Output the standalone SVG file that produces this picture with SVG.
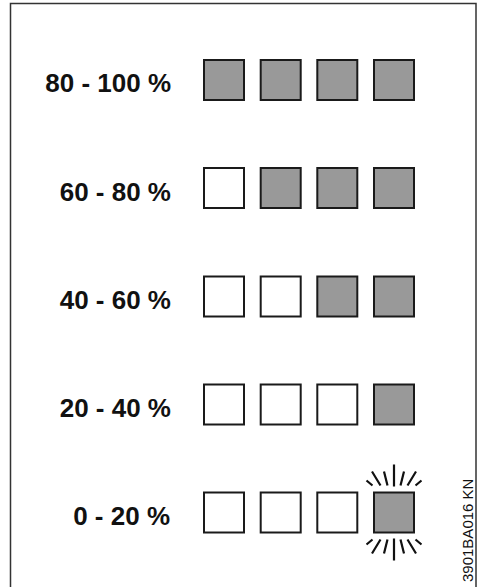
<svg xmlns="http://www.w3.org/2000/svg" width="482" height="587" viewBox="0 0 482 587">
<style>
.lbl{font-family:"Liberation Sans",Arial,sans-serif;font-weight:bold;font-size:26px;fill:#111;text-anchor:end}
.on{fill:#999;stroke:#1a1a1a;stroke-width:2}
.off{fill:#fff;stroke:#1a1a1a;stroke-width:2}
.ray{stroke:#111;stroke-width:2.2;fill:none;stroke-linecap:butt}
.code{font-family:"Liberation Sans",Arial,sans-serif;font-size:15px;fill:#111}
</style>
<rect width="482" height="587" fill="#fff"/>
<path d="M10.5,587 V3.5 H476 V587" fill="none" stroke="#333" stroke-width="1.5"/>
<g id="row-80-100">
<text class="lbl" x="171" y="92">80 - 100 %</text>
<rect class="on" x="204" y="60" width="40" height="40"/>
<rect class="on" x="260.7" y="60" width="40" height="40"/>
<rect class="on" x="317.3" y="60" width="40" height="40"/>
<rect class="on" x="374" y="60" width="40" height="40"/>
</g>
<g id="row-60-80">
<text class="lbl" x="171" y="200.5">60 - 80 %</text>
<rect class="off" x="204" y="168" width="40" height="40"/>
<rect class="on" x="260.7" y="168" width="40" height="40"/>
<rect class="on" x="317.3" y="168" width="40" height="40"/>
<rect class="on" x="374" y="168" width="40" height="40"/>
</g>
<g id="row-40-60">
<text class="lbl" x="171" y="308.5">40 - 60 %</text>
<rect class="off" x="204" y="276.5" width="40" height="40"/>
<rect class="off" x="260.7" y="276.5" width="40" height="40"/>
<rect class="on" x="317.3" y="276.5" width="40" height="40"/>
<rect class="on" x="374" y="276.5" width="40" height="40"/>
</g>
<g id="row-20-40">
<text class="lbl" x="171" y="416.5">20 - 40 %</text>
<rect class="off" x="204" y="384.5" width="40" height="40"/>
<rect class="off" x="260.7" y="384.5" width="40" height="40"/>
<rect class="off" x="317.3" y="384.5" width="40" height="40"/>
<rect class="on" x="374" y="384.5" width="40" height="40"/>
</g>
<g id="row-0-20">
<text class="lbl" x="170" y="524.5">0 - 20 %</text>
<rect class="off" x="204" y="492.5" width="40" height="40"/>
<rect class="off" x="260.7" y="492.5" width="40" height="40"/>
<rect class="off" x="317.3" y="492.5" width="40" height="40"/>
<rect class="on" x="374" y="492.5" width="40" height="40"/>
</g>
<g id="blink" transform="translate(394,512.5)">
<g class="ray">
<path d="M0,-48 V-26 M-10,-41 L-6.5,-27 M-22,-41 L-13.5,-27 M-27.5,-32 L-21.5,-27 M10,-41 L6.5,-27 M22,-41 L13.5,-27 M27.5,-32 L21.5,-27"/>
<path d="M0,48 V26 M-10,41 L-6.5,27 M-22,41 L-13.5,27 M-27.5,32 L-21.5,27 M10,41 L6.5,27 M22,41 L13.5,27 M27.5,32 L21.5,27"/>
</g>
</g>
<text class="code" transform="translate(472.5,582) rotate(-90)">3901BA016 KN</text>
</svg>
